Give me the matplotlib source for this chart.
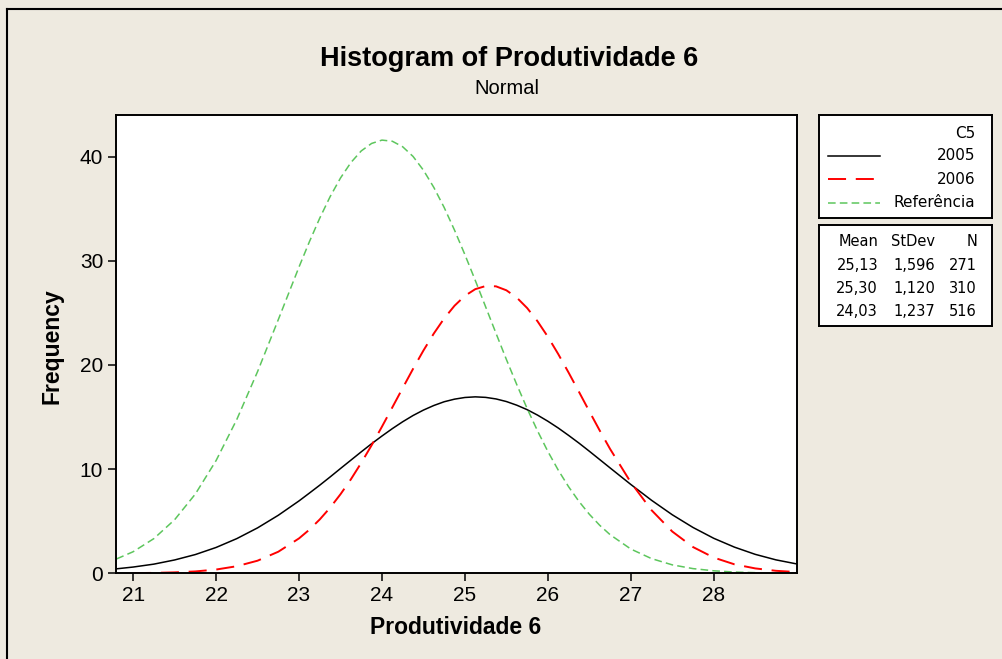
import matplotlib.pyplot as plt
import numpy as np
from matplotlib.lines import Line2D

# values
x_vals = [20.8, 21.0, 21.25, 21.5, 21.75, 22.0, 22.25, 22.5, 22.75, 23.0,
          23.125, 23.25, 23.375, 23.5, 23.625, 23.75, 23.875, 24.0, 24.125, 24.25,
          24.375, 24.5, 24.625, 24.75, 24.875, 25.0, 25.125, 25.25, 25.375, 25.5,
          25.625, 25.75, 25.875, 26.0, 26.125, 26.25, 26.375, 26.5, 26.625, 26.75,
          27.0, 27.25, 27.5, 27.75, 28.0, 28.25, 28.5, 28.75, 29.0]
freq_2005 = [0.43, 0.60, 0.88, 1.28, 1.80, 2.48, 3.33, 4.36, 5.57, 6.95,
             7.70, 8.46, 9.25, 10.06, 10.86, 11.66, 12.44, 13.18, 13.89, 14.55,
             15.15, 15.67, 16.11, 16.47, 16.72, 16.88, 16.94, 16.89, 16.74, 16.49,
             16.14, 15.71, 15.19, 14.60, 13.95, 13.24, 12.50, 11.72, 10.92, 10.12,
             8.53, 7.01, 5.62, 4.40, 3.36, 2.51, 1.82, 1.29, 0.90]
freq_2006 = [np.nan, 0.02, 0.04, 0.09, 0.18, 0.36, 0.68, 1.21, 2.07, 3.35,
             4.19, 5.17, 6.30, 7.59, 9.02, 10.60, 12.29, 14.08, 15.93, 17.79,
             19.63, 21.39, 23.02, 24.47, 25.69, 26.64, 27.28, 27.58, 27.55, 27.17,
             26.47, 25.47, 24.20, 22.71, 21.05, 19.27, 17.42, 15.55, 13.71, 11.94,
             8.73, 6.06, 4.01, 2.52, 1.51, 0.86, 0.47, 0.24, 0.12]
freq_ref = [1.38, 2.07, 3.33, 5.14, 7.61, 10.82, 14.77, 19.36, 24.35, 29.41,
            31.83, 34.10, 36.16, 37.95, 39.43, 40.55, 41.27, 41.59, 41.48, 40.95,
            40.02, 38.70, 37.05, 35.12, 32.94, 30.59, 28.12, 25.58, 23.04, 20.53,
            18.12, 15.82, 13.68, 11.70, 9.91, 8.31, 6.90, 5.67, 4.61, 3.71,
            2.33, 1.41, 0.81, 0.45, 0.24, 0.12, 0.06, np.nan, np.nan]

series_names = ['2005', '2006', 'Referência']
means = [25.13, 25.30, 24.03]
stdevs = [1.596, 1.120, 1.237]
counts = [271, 310, 516]

x_ticks = [21, 22, 23, 24, 25, 26, 27, 28]
y_ticks = [0, 10, 20, 30, 40]

plt.rcParams['lines.scale_dashes'] = False
bg = '#EEEAE0'
W, H = 1002, 659


def px(x0, y0, x1, y1):
    return [x0 / W, 1 - y1 / H, (x1 - x0) / W, (y1 - y0) / H]


fig = plt.figure(figsize=(W / 100, H / 100), dpi=100, facecolor=bg)

styles = [dict(color='black', lw=1.1),
          dict(color='#FF0000', lw=1.4, dashes=(13, 7)),
          dict(color='#5DC65D', lw=1.1, dashes=(5.5, 3))]

ax = fig.add_axes(px(115.7, 115, 796.7, 573.3))
for ys, st in zip([freq_2005, freq_2006, freq_ref], styles):
    ax.plot(x_vals, ys, **st)
ax.set_xlim(20.79, 29.0)
ax.set_ylim(0, 44.0)
ax.set_xticks(x_ticks)
ax.set_yticks(y_ticks)
ax.tick_params(direction='out', length=6, width=1.1, labelsize=15, pad=3)
for lab in ax.get_xticklabels() + ax.get_yticklabels():
    lab.set_family('Liberation Sans')
for sp in ax.spines.values():
    sp.set_linewidth(1.4)

fig.text(509 / W, 1 - 66 / H, 'Histogram of Produtividade 6', ha='center', va='baseline',
         fontsize=19.5, fontweight='bold', family='Liberation Sans')
fig.text(507 / W, 1 - 94 / H, 'Normal', ha='center', va='baseline',
         fontsize=14.5, family='Liberation Sans')
fig.text(456 / W, 1 - 634 / H, 'Produtividade 6', ha='center', va='baseline',
         fontsize=16.5, fontweight='bold', family='Liberation Sans')
fig.text(52 / W, 1 - 346 / H, 'Frequency', ha='center', va='center', rotation=90,
         fontsize=16.5, fontweight='bold', family='Liberation Sans')

# outer frame (top and left only)
fig.add_artist(Line2D([7 / W, 7 / W], [0, 1 - 9 / H], color='black', lw=1.5,
                      transform=fig.transFigure))
fig.add_artist(Line2D([7 / W, 1], [1 - 9 / H, 1 - 9 / H], color='black', lw=1.5,
                      transform=fig.transFigure))

# legend box
lx0, lx1 = 819.3, 991.7
leg = fig.add_axes(px(lx0, 115, lx1, 217.7))
leg.set_xlim(lx0, lx1)
leg.set_ylim(217.7, 115)
leg.set_xticks([])
leg.set_yticks([])
for sp in leg.spines.values():
    sp.set_linewidth(1.4)
leg.text(975, 133, 'C5', ha='right', va='center', fontsize=11)
for i, (name, st) in enumerate(zip(series_names, styles)):
    yy = 155.7 + i * 23.5
    leg.plot([828, 880], [yy, yy], **st)
    leg.text(975, yy, name, ha='right', va='center', fontsize=11)

# stats box
st_ax = fig.add_axes(px(lx0, 225, lx1, 326))
st_ax.set_xlim(lx0, lx1)
st_ax.set_ylim(326, 225)
st_ax.set_xticks([])
st_ax.set_yticks([])
for sp in st_ax.spines.values():
    sp.set_linewidth(1.4)
cols = [878, 935, 977]
for cx, head in zip(cols, ['Mean', 'StDev', 'N']):
    st_ax.text(cx, 241.7, head, ha='right', va='center', fontsize=10.5)
for i, (m, s, n) in enumerate(zip(means, stdevs, counts)):
    yy = 265 + i * 23.3
    vals = [f'{m:.2f}'.replace('.', ','), f'{s:.3f}'.replace('.', ','), str(n)]
    for cx, v in zip(cols, vals):
        st_ax.text(cx, yy, v, ha='right', va='center', fontsize=10.5)

fig.savefig('out.png', dpi=100, facecolor=bg)
